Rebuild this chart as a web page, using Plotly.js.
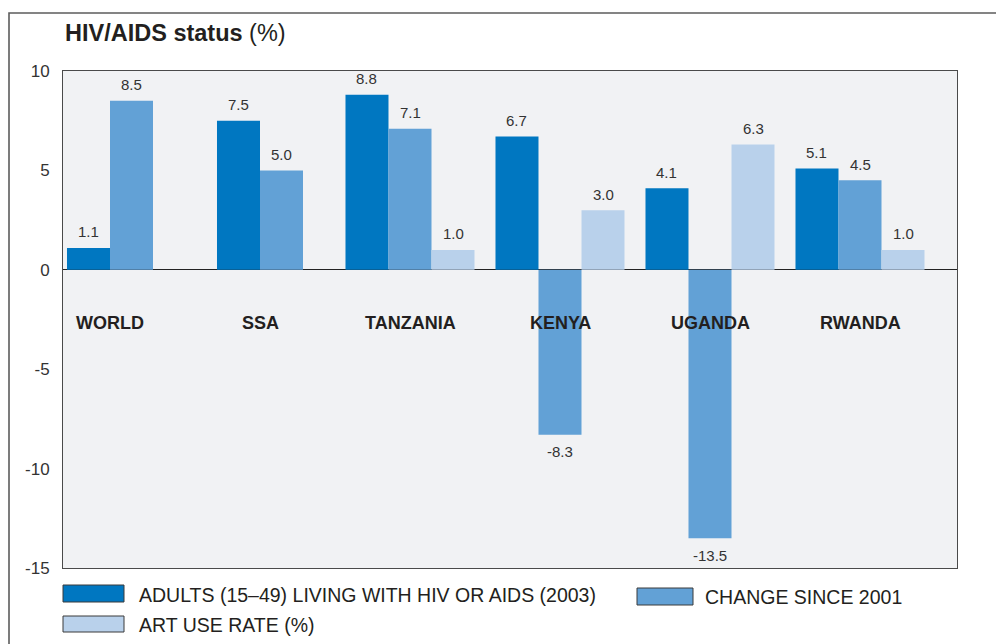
<!DOCTYPE html>
<html>
<head>
<meta charset="utf-8">
<script src="https://cdn.plot.ly/plotly-3.0.1.min.js"></script>
<style>html,body{margin:0;padding:0;background:#fff;}#chart{width:996px;height:644px;}</style>
</head>
<body>
<div id="chart"></div>
<script>
// ---- data ----
const categories = ['WORLD', 'SSA', 'TANZANIA', 'KENYA', 'UGANDA', 'RWANDA'];
const adultsLiving = [1.1, 7.5, 8.8, 6.7, 4.1, 5.1];
const changeSince2001 = [8.5, 5.0, 7.1, -8.3, -13.5, 4.5];
const artUseRate = [null, null, 1.0, 3.0, 6.3, 1.0];
const seriesNames = ['ADULTS (15\u201349) LIVING WITH HIV OR AIDS (2003)', 'CHANGE SINCE 2001', 'ART USE RATE (%)'];
const yTickVals = [10, 5, 0, -5, -10, -15];
const titleBold = 'HIV/AIDS status';
const titleRest = ' (%)';

// ---- style ----
const colors = ['#0077c1', '#62a1d6', '#b9d1eb'];
const FONT = '"Liberation Sans", Arial, Helvetica, sans-serif';
const W = 996, H = 644;
const M = {l: 63, r: 39, t: 71, b: 76};
const PW = W - M.l - M.r, PH = H - M.t - M.b;
const fx = px => (px - M.l) / PW;
const fy = py => (H - M.b - py) / PH;

const barW = 0.2867;
const series = [adultsLiving, changeSince2001, artUseRate];
const nInGroup = categories.map((c, i) => series.filter(s => s[i] !== null && s[i] !== undefined).length);
const offsets = series.map((s, k) => categories.map((c, i) => -nInGroup[i] * barW / 2 + k * barW));

const traces = series.map((s, k) => ({
  type: 'bar',
  name: seriesNames[k],
  x: categories,
  y: s,
  width: categories.map(() => barW),
  offset: offsets[k],
  marker: {color: colors[k], line: {width: 0}},
  hoverinfo: 'x+y',
  showlegend: false
}));

const annotations = [];
// value labels
series.forEach((s, k) => {
  s.forEach((v, i) => {
    if (v === null || v === undefined) return;
    annotations.push({
      x: i + offsets[k][i] + barW / 2, y: v, xref: 'x', yref: 'y',
      text: v.toFixed(1), showarrow: false,
      yanchor: 'middle', yshift: v >= 0 ? 16 : -17,
      font: {family: FONT, size: 15, color: '#333333'}
    });
  });
});
// category labels inside plot
categories.forEach((c, i) => {
  annotations.push({
    x: i, y: -2.7, xref: 'x', yref: 'y', text: '<b>' + c + '</b>', showarrow: false,
    font: {family: FONT, size: 18, color: '#231f20'}
  });
});
// legend
const legendItems = [
  {sx0: 63, sx1: 124, sy0: 585, sy1: 602, tx: 137, ty: 595},
  {sx0: 637, sx1: 693, sy0: 588, sy1: 605, tx: 703, ty: 597},
  {sx0: 63, sx1: 124, sy0: 616, sy1: 632, tx: 137, ty: 625}
];
const shapes = [];
legendItems.forEach((it, k) => {
  shapes.push({type: 'rect', xref: 'paper', yref: 'paper',
    x0: fx(it.sx0), x1: fx(it.sx1), y0: fy(it.sy1), y1: fy(it.sy0),
    fillcolor: colors[k], line: {color: '#3a3a3a', width: 1}});
  annotations.push({xref: 'paper', yref: 'paper', x: fx(it.tx), y: fy(it.ty),
    xanchor: 'left', yanchor: 'middle', showarrow: false, text: seriesNames[k],
    font: {family: FONT, size: 19.5, color: '#231f20'}});
});
// outer frame (left + top)
shapes.push({type: 'path', xref: 'paper', yref: 'paper',
  path: `M ${fx(9)},${fy(700)} L ${fx(9)},${fy(13)} L ${fx(1010)},${fy(13)}`,
  line: {color: '#5c5c5c', width: 1.6}});

const layout = {
  width: W, height: H,
  margin: M,
  paper_bgcolor: '#ffffff',
  plot_bgcolor: '#f1f2f4',
  barmode: 'overlay',
  showlegend: false,
  title: {
    text: '<b>' + titleBold + '</b>' + titleRest,
    xref: 'container', yref: 'container', x: 65 / W, xanchor: 'left',
    y: 1 - 33 / H, yanchor: 'middle',
    font: {family: FONT, size: 23.5, color: '#231f20'}
  },
  xaxis: {
    type: 'category', categoryarray: categories,
    range: [-0.3133, 5.6467], showticklabels: false, ticks: '',
    showgrid: false, zeroline: false,
    showline: true, mirror: true, linecolor: '#4a4a4a', linewidth: 1, fixedrange: true
  },
  yaxis: {
    range: [-15, 10], tickvals: yTickVals, ticktext: yTickVals.map(String),
    ticks: '', showgrid: false, ticklabelstandoff: 9,
    zeroline: true, zerolinecolor: '#222222', zerolinewidth: 1.2,
    showline: true, mirror: true, linecolor: '#4a4a4a', linewidth: 1,
    tickfont: {family: FONT, size: 17, color: '#333333'}, fixedrange: true
  },
  annotations: annotations,
  shapes: shapes
};

Plotly.newPlot('chart', traces, layout, {displayModeBar: false, staticPlot: true});
</script>
</body>
</html>
